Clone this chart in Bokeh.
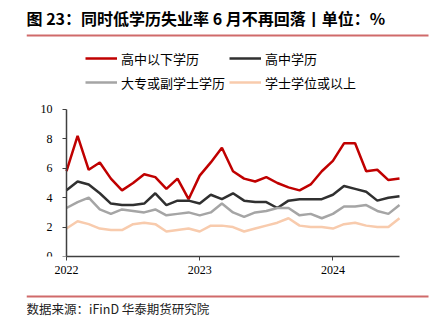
from bokeh.plotting import figure
from bokeh.models import (Range1d, Legend, LegendItem, FixedTicker, Label, BoxAnnotation,
                          AllLabels)
from bokeh.layouts import column
from bokeh.embed import file_html
from bokeh.resources import INLINE

title_text = "图 23：同时低学历失业率 6 月不再回落丨单位：%"
source_text = "数据来源：iFinD     华泰期货研究院"

months = [
    "2022-01", "2022-02", "2022-03", "2022-04", "2022-05", "2022-06",
    "2022-07", "2022-08", "2022-09", "2022-10", "2022-11", "2022-12",
    "2023-01", "2023-02", "2023-03", "2023-04", "2023-05", "2023-06",
    "2023-07", "2023-08", "2023-09", "2023-10", "2023-11", "2023-12",
    "2024-01", "2024-02", "2024-03", "2024-04", "2024-05", "2024-06",
    "2024-07",
]
year_labels = ["2022", "2023", "2024"]
y_ticks = [0, 2, 4, 6, 8, 10]

below_high_school = [5.8, 8.2, 5.9, 6.4, 5.3, 4.5, 5.0, 5.6, 5.4, 4.6, 5.3, 3.9,
                     5.5, 6.4, 7.4, 5.8, 5.3, 5.1, 5.4, 5.0, 4.7, 4.5, 4.9, 5.8,
                     6.5, 7.7, 7.7, 5.8, 5.9, 5.2, 5.3]
high_school = [4.5, 5.1, 4.9, 4.3, 3.6, 3.5, 3.5, 3.6, 4.3, 3.5, 3.8, 3.8,
               3.6, 4.2, 3.9, 4.3, 3.8, 3.7, 3.7, 3.3, 3.8, 3.9, 3.9, 3.9,
               4.2, 4.8, 4.6, 4.4, 3.8, 4.0, 4.1]
college = [3.3, 3.7, 4.0, 3.2, 2.9, 3.2, 3.1, 3.0, 3.2, 2.8, 2.9, 3.0,
           2.8, 3.0, 3.6, 3.0, 2.7, 3.0, 3.1, 3.3, 3.3, 2.8, 2.9, 2.6,
           2.9, 3.4, 3.4, 3.5, 3.1, 2.9, 3.5]
bachelor = [1.9, 2.4, 2.2, 1.9, 1.8, 1.8, 2.2, 2.3, 2.2, 1.7, 1.8, 1.9,
            1.7, 2.1, 2.1, 2.0, 1.7, 1.9, 2.1, 2.3, 2.6, 2.1, 2.0, 2.0,
            1.9, 2.2, 2.3, 2.1, 2.0, 2.0, 2.6]

series_names = ["高中以下学历", "高中学历", "大专或副学士学历", "学士学位或以上"]
series_values = [below_high_school, high_school, college, bachelor]
series_colors = ["#C00000", "#303030", "#A5A5A5", "#F8CBAD"]

CJK = "Noto Sans CJK SC"
SERIF = "Liberation Serif"
RULE = "#D06A6A"

W = 444
MAIN_H = 290           # main canvas: 0..290
FOOT_H = 328 - MAIN_H  # footer canvas: 290..328

# where the chart's axes sit on the canvas
AX_LEFT, AX_RIGHT, AX_TOP, AX_BOTTOM = 66, 399, 109, 256
BL = 26                      # left border (room for the y axis panel)
BB = MAIN_H - AX_BOTTOM      # bottom border: frame bottom sits on the x axis
FRAME_H = AX_BOTTOM

n = len(months) - 1
ppx = (AX_RIGHT - AX_LEFT) / n
ppy = (AX_BOTTOM - AX_TOP) / 10.0
x_range = Range1d(-(AX_LEFT - BL) / ppx, n + (W - AX_RIGHT) / ppx)
y_range = Range1d(-0.0001, 10 + AX_TOP / ppy)

x = list(range(len(months)))
p = figure(width=W, height=MAIN_H, x_range=x_range, y_range=y_range,
           toolbar_location=None, output_backend="svg",
           min_border_left=BL, min_border_right=0, min_border_top=0, min_border_bottom=BB,
           outline_line_color=None)
p.grid.visible = False

items = []
for name, vals, col in zip(series_names, series_values, series_colors):
    r = p.line(x, vals, line_color=col, line_width=2.5)
    items.append(LegendItem(label=name, renderers=[r]))

legend = Legend(items=items, location=(85 - BL, FRAME_H - 92), orientation="horizontal", ncols=2,
                label_text_font=CJK, label_text_font_size="13px", label_text_color="#000000",
                glyph_width=32, glyph_height=20, label_height=20, label_standoff=4,
                spacing=4, padding=0, margin=0, border_line_color=None,
                background_fill_alpha=0)
p.add_layout(legend, "center")

tick_pos = [months.index(y + "-01") for y in year_labels]
p.xaxis.ticker = FixedTicker(ticks=tick_pos)
p.xaxis.major_label_overrides = {t: lab for t, lab in zip(tick_pos, year_labels)}
p.xaxis.bounds = (0, n)
p.yaxis.ticker = FixedTicker(ticks=y_ticks)
p.yaxis.fixed_location = 0
p.yaxis.bounds = (y_ticks[0], y_ticks[-1] + 0.01)
for ax in (p.xaxis, p.yaxis):
    ax.axis_line_color = "#404040"
    ax.axis_line_width = 1.5
    ax.major_tick_line_color = "#404040"
    ax.major_tick_in = 0
    ax.major_tick_out = 4
    ax.minor_tick_line_color = None
    ax.major_label_text_font = SERIF
    ax.major_label_text_font_size = "12px"
    ax.major_label_text_color = "#000000"
    ax.major_label_policy = AllLabels()
p.xaxis.major_label_standoff = 5
p.yaxis.major_label_standoff = 10

# title and rule (screen units: from the frame's bottom-left corner)
p.add_layout(Label(x=26 - BL, y=FRAME_H - 17, x_units="screen", y_units="screen",
                   text=title_text, text_baseline="middle", text_font=CJK,
                   text_font_style="bold", text_font_size="16px", text_color="#000000"))
p.add_layout(BoxAnnotation(left=0, right=428 - BL, bottom=FRAME_H - 36, top=FRAME_H - 34,
                           left_units="screen", right_units="screen",
                           bottom_units="screen", top_units="screen",
                           fill_color=RULE, fill_alpha=1, line_color=None))

# footer
foot = figure(width=W, height=FOOT_H, x_range=Range1d(0, 1), y_range=Range1d(0, 1),
              x_axis_type=None, y_axis_type=None, toolbar_location=None,
              output_backend="svg", min_border_left=BL, min_border_right=0,
              min_border_top=0, min_border_bottom=0, outline_line_color=None)
foot.add_layout(BoxAnnotation(left=0, right=428 - BL, bottom=328 - 297, top=328 - 295,
                              left_units="screen", right_units="screen",
                              bottom_units="screen", top_units="screen",
                              fill_color=RULE, fill_alpha=1, line_color=None))
foot.add_layout(Label(x=26 - BL, y=328 - 308, x_units="screen", y_units="screen",
                      text=source_text, text_baseline="middle", text_font=CJK,
                      text_font_size="12.5px", text_color="#222222"))

layout = column(p, foot, spacing=0)
open("out.html", "w").write(file_html(layout, INLINE))
